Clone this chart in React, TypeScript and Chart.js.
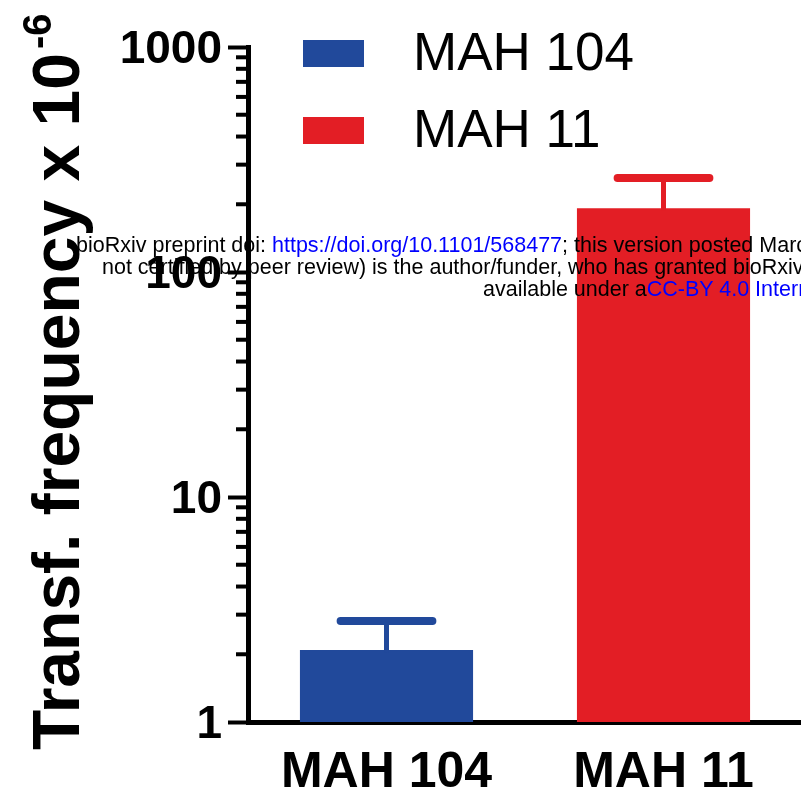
import React, { useEffect, useRef } from 'react';
import { Chart, registerables } from 'chart.js';

Chart.register(...registerables);

// ---- data ----
const categories = ['MAH 104', 'MAH 11'];
const seriesLabels = ['MAH 104', 'MAH 11'];
const meanValues = [2.09, 192];
const upperErrors = [2.81, 262];
const seriesColors = ['#21499B', '#E31E25'];
const yTickValues = [1, 10, 100, 1000];
const yMinorMultipliers = [2, 3, 4, 5, 6, 7, 8, 9];
const yTitle = 'Transf. frequency x 10';
const yTitleSup = '-6';

const FONT = '"Liberation Sans", Arial, Helvetica, sans-serif';

const minorTicksPlugin = {
  id: 'minorTicks',
  afterDraw(chart: any) {
    const y = chart.scales.y;
    const ctx = chart.ctx;
    const left = chart.chartArea.left;
    ctx.save();
    ctx.strokeStyle = '#000';
    ctx.lineWidth = 4;
    for (let d = 0; d < yTickValues.length - 1; d++) {
      for (const m of yMinorMultipliers) {
        const py = y.getPixelForValue(yTickValues[d] * m);
        ctx.beginPath();
        ctx.moveTo(left - 12, py);
        ctx.lineTo(left, py);
        ctx.stroke();
      }
    }
    ctx.restore();
  },
};

const errorBarPlugin = {
  id: 'errorBars',
  afterDatasetsDraw(chart: any) {
    const ctx = chart.ctx;
    const yScale = chart.scales.y;
    ctx.save();
    ctx.lineCap = 'round';
    chart.data.datasets.forEach((ds: any, i: number) => {
      const meta = chart.getDatasetMeta(i);
      meta.data.forEach((el: any, j: number) => {
        if (ds.data[j] == null) return;
        const yTop = yScale.getPixelForValue(upperErrors[j]);
        const half = el.width * 0.265;
        ctx.strokeStyle = ds.backgroundColor;
        ctx.lineWidth = 5;
        ctx.beginPath();
        ctx.moveTo(el.x, el.y);
        ctx.lineTo(el.x, yTop);
        ctx.stroke();
        ctx.lineWidth = 8;
        ctx.beginPath();
        ctx.moveTo(el.x - half, yTop);
        ctx.lineTo(el.x + half, yTop);
        ctx.stroke();
      });
    });
    ctx.restore();
  },
};

const legendPlugin = {
  id: 'customLegend',
  afterDraw(chart: any) {
    const ctx = chart.ctx;
    const { left, top } = chart.chartArea;
    ctx.save();
    ctx.font = `53px ${FONT}`;
    ctx.textBaseline = 'middle';
    ctx.textAlign = 'left';
    chart.data.datasets.forEach((ds: any, i: number) => {
      const cy = top + 6 + i * 77;
      ctx.fillStyle = ds.backgroundColor;
      ctx.fillRect(left + 55, cy - 13, 61, 27);
      ctx.fillStyle = '#000';
      ctx.fillText(ds.label, left + 165, cy + 2);
    });
    ctx.restore();
  },
};

const yTitlePlugin = {
  id: 'yTitle',
  afterDraw(chart: any) {
    const ctx = chart.ctx;
    ctx.save();
    ctx.translate(79, 750);
    ctx.rotate(-Math.PI / 2);
    ctx.fillStyle = '#000';
    ctx.textAlign = 'left';
    ctx.textBaseline = 'alphabetic';
    ctx.font = `bold 66px ${FONT}`;
    ctx.fillText(yTitle, 0, 0);
    const w = ctx.measureText(yTitle).width;
    ctx.font = `bold 40px ${FONT}`;
    ctx.fillText(yTitleSup, w + 4, -28);
    ctx.restore();
  },
};

export default function App() {
  const ref = useRef<HTMLCanvasElement | null>(null);

  useEffect(() => {
    if (!ref.current) return;
    const chart = new Chart(ref.current, {
      type: 'bar',
      data: {
        labels: categories,
        datasets: seriesLabels.map((label, i) => ({
          label,
          data: categories.map((_, j) => (j === i ? meanValues[i] : null)),
          backgroundColor: seriesColors[i],
          borderWidth: 0,
        })),
      },
      options: {
        animation: false,
        responsive: false,
        layout: { padding: { top: 47, right: 8, left: 0, bottom: 0 } },
        datasets: {
          bar: { grouped: false, categoryPercentage: 1, barPercentage: 0.625 },
        } as any,
        plugins: {
          legend: { display: false },
          tooltip: { enabled: false },
        },
        scales: {
          x: {
            grid: { display: true, drawOnChartArea: false, drawTicks: false, color: '#000' },
            border: { display: true, color: '#000', width: 5 },
            ticks: {
              color: '#000',
              padding: 21,
              font: { family: FONT, weight: 'bold', size: 50 },
            },
            afterFit: (s: any) => {
              s.height = 76;
            },
          },
          y: {
            type: 'logarithmic',
            min: 1,
            max: 1000,
            grid: { drawOnChartArea: false, drawTicks: true, tickLength: 20, tickWidth: 4, color: '#000' },
            border: { display: true, color: '#000', width: 5 },
            ticks: {
              color: '#000',
              padding: 6,
              labelOffset: 3,
              font: { family: FONT, weight: 'bold', size: 46 },
              callback: (v: any) => String(v),
            },
            afterBuildTicks: (s: any) => {
              s.ticks = yTickValues.map((v) => ({ value: v }));
            },
            afterFit: (s: any) => {
              s.width = 248;
            },
          },
        } as any,
      },
      plugins: [minorTicksPlugin, errorBarPlugin, legendPlugin, yTitlePlugin],
    });
    return () => chart.destroy();
  }, []);

  const line: React.CSSProperties = {
    position: 'absolute',
    whiteSpace: 'nowrap',
    fontFamily: FONT,
    fontSize: 21.5,
    lineHeight: '22px',
    color: '#000',
  };
  const blue: React.CSSProperties = { color: '#0000ff' };

  return (
    <div
      style={{
        position: 'fixed',
        left: 0,
        top: 0,
        width: 801,
        height: 798,
        overflow: 'hidden',
        background: '#fff',
      }}
    >
      <canvas ref={ref} width={810} height={798} style={{ position: 'absolute', left: 0, top: 0 }} />
      <div style={{ ...line, left: 76, top: 234 }}>
        bioRxiv preprint doi: <span style={blue}>https://doi.org/10.1101/568477</span>; this version posted March 6, 2019. The copyright holder for this preprint (which was
      </div>
      <div style={{ ...line, left: 102, top: 256 }}>
        not certified by peer review) is the author/funder, who has granted bioRxiv a license to display the preprint in perpetuity. It is made
      </div>
      <div style={{ ...line, left: 483, top: 278 }}>
        available under a<span style={blue}>CC-BY 4.0 International license</span>.
      </div>
    </div>
  );
}
